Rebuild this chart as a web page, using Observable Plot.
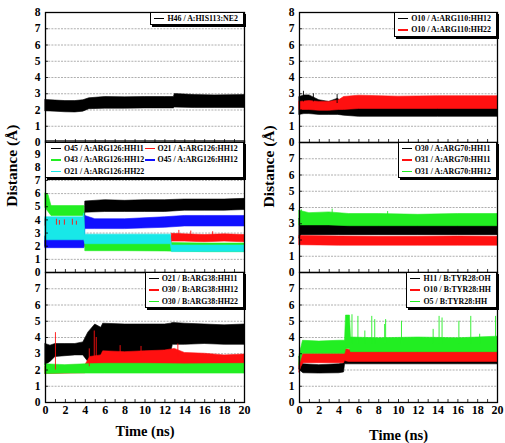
<!DOCTYPE html>
<html>
<head>
<meta charset="utf-8">
<script src="https://cdn.jsdelivr.net/npm/d3@7"></script>
<script src="https://cdn.jsdelivr.net/npm/@observablehq/plot@0.6"></script>
<style>
  body { margin: 0; background: #fff; }
  #fig { position: relative; width: 505px; height: 443px; overflow: hidden; background: #fff;
         font-family: "Liberation Serif", "Times New Roman", serif; font-weight: bold; }
  #fig svg { position: absolute; font-family: "Liberation Serif", "Times New Roman", serif; }
  .leg { position: absolute; background: #fff; border: 1px solid #000; box-shadow: 2px 2px 0 #000;
         font-size: 7.9px; line-height: 11.4px; padding: 0 5px 0 3px; white-space: nowrap; box-sizing: border-box; }
  .leg .row { display: flex; align-items: center; }
  .leg .sw { display: inline-block; width: 10px; height: 1.4px; margin-right: 3px; flex: none; }
  .leg.two { display: grid; grid-template-columns: 1fr 1fr; padding-left: 5px; }
</style>
</head>
<body>
<div id="fig"></div>
<script>
// ---- shared axis values ----
const timeTickLabels = [0, 2, 4, 6, 8, 10, 12, 14, 16, 18, 20];
const timeMinorTicks = d3.range(0, 21, 1);
const distTicks8 = [0, 1, 2, 3, 4, 5, 6, 7, 8];
const distTicks7 = [0, 1, 2, 3, 4, 5, 6, 7];
const distTicks9 = [0, 1, 2, 3, 4, 5, 6, 7, 8, 9];

const colBlack = "#000000", colRed = "#ff1010", colGreen = "#22ee22", colBlue = "#1010ff", colCyan = "#18e8e8";

// ---- H46 / A:HIS113:NE2 (min/max envelope over time, ns / Å) ----
const h46T  = [0, 1, 2, 3, 3.8, 4.4, 6, 8, 10, 12, 12.9, 13.0, 15, 17, 20];
const h46Lo = [1.92, 1.9, 1.86, 1.85, 1.9, 2.05, 2.08, 2.08, 2.1, 2.1, 2.1, 2.15, 2.12, 2.12, 2.12];
const h46Hi = [2.62, 2.58, 2.55, 2.55, 2.6, 2.72, 2.8, 2.78, 2.8, 2.8, 2.8, 2.98, 2.92, 2.9, 2.92];

// ---- A:ARG126 contacts ----
const o45hh11T  = [0, 3.9, 4.0, 6, 8, 10, 12, 14, 16, 18, 20];
const o45hh11Lo = [1.95, 2.0, 4.55, 4.6, 4.6, 4.6, 4.6, 4.7, 4.7, 4.7, 4.75];
const o45hh11Hi = [2.75, 2.7, 5.4, 5.5, 5.45, 5.5, 5.5, 5.55, 5.55, 5.55, 5.6];

const o21hh12T  = [0, 3.9, 4.0, 12.6, 12.7, 14, 16, 18, 20];
const o21hh12Lo = [3.55, 3.55, 1.95, 1.95, 2.35, 2.35, 2.3, 2.35, 2.3];
const o21hh12Hi = [4.05, 4.05, 2.3, 2.3, 2.95, 2.9, 2.85, 2.9, 2.85];
const o21hh12SpikeT    = [1.1, 1.4, 1.9, 2.7, 3.1, 13.4, 14.6, 16.8];
const o21hh12SpikeLo   = [3.6, 3.6, 3.6, 3.6, 3.6, 2.6, 2.6, 2.6];
const o21hh12SpikeHi   = [4.05, 3.95, 4.0, 4.05, 3.9, 3.2, 3.15, 3.1];

const o43hh12T  = [0, 0.3, 0.6, 3.9, 4.0, 8, 12, 16, 20];
const o43hh12Lo = [4.9, 4.6, 4.3, 4.3, 1.62, 1.62, 1.6, 1.55, 1.55];
const o43hh12Hi = [6.0, 5.9, 5.05, 5.05, 2.28, 2.25, 2.25, 2.2, 2.2];

const o45hh12T  = [0, 3.9, 4.0, 5, 8, 12, 14, 16, 20];
const o45hh12Lo = [1.85, 1.85, 3.3, 3.3, 3.3, 3.4, 3.5, 3.5, 3.5];
const o45hh12Hi = [2.65, 2.6, 4.3, 4.05, 4.05, 4.2, 4.3, 4.3, 4.3];

const o21hh22T  = [0, 3.8, 3.9, 4.0, 12.6, 12.7, 20];
const o21hh22Lo = [2.45, 2.45, 2.45, 2.15, 2.15, 1.55, 1.55];
const o21hh22Hi = [4.2, 4.2, 4.5, 2.88, 2.88, 2.05, 2.05];

// ---- B:ARG38 contacts ----
const o21bhh11T  = [0, 0.5, 1, 2, 3, 3.8, 4.3, 5.0, 5.6, 5.8, 8, 10, 12, 12.6, 12.8, 14, 16, 18, 20];
const o21bhh11Lo = [2.3, 2.5, 2.8, 2.85, 2.9, 2.9, 2.5, 2.5, 2.9, 3.0, 3.0, 3.0, 3.0, 3.0, 3.55, 3.55, 3.6, 3.55, 3.55];
const o21bhh11Hi = [3.6, 3.5, 3.6, 3.6, 3.6, 3.7, 4.3, 4.8, 4.6, 4.85, 4.8, 4.8, 4.8, 4.85, 4.9, 4.85, 4.8, 4.75, 4.8];

const o30bhh12T  = [0, 4.0, 4.5, 5.6, 5.8, 8, 10, 12, 13, 14, 16, 18, 20];
const o30bhh12Lo = [1.75, 1.8, 1.9, 2.0, 2.1, 2.1, 2.1, 2.1, 2.1, 2.1, 2.1, 2.1, 2.1];
const o30bhh12Hi = [2.2, 2.3, 2.8, 2.9, 3.15, 3.1, 3.15, 3.2, 3.3, 3.05, 3.0, 2.9, 2.95];
const o30bhh12SpikeT  = [1.0, 4.4, 4.9, 5.1, 7.5, 9.6, 13.3];
const o30bhh12SpikeLo = [2.0, 2.2, 2.4, 2.4, 2.8, 2.8, 2.8];
const o30bhh12SpikeHi = [4.3, 3.3, 4.4, 4.0, 3.5, 3.45, 3.6];

const o30bhh22T  = [0, 2, 4, 6, 10, 14, 20];
const o30bhh22Lo = [1.75, 1.78, 1.78, 1.78, 1.78, 1.78, 1.78];
const o30bhh22Hi = [2.35, 2.3, 2.35, 2.38, 2.38, 2.35, 2.38];

// ---- A:ARG110 contacts ----
const o10hh12T  = [0, 0.5, 1, 2, 3, 3.9, 4.5, 6, 10, 14, 20];
const o10hh12Lo = [1.7, 1.75, 1.75, 1.7, 1.7, 1.7, 1.65, 1.58, 1.58, 1.58, 1.58];
const o10hh12Hi = [2.8, 2.9, 2.9, 2.6, 2.5, 2.7, 2.3, 2.15, 2.1, 2.1, 2.1];
const o10hh12SpikeT  = [0.4, 1.4, 3.8];
const o10hh12SpikeLo = [2.5, 2.5, 2.4];
const o10hh12SpikeHi = [3.15, 3.0, 2.95];

const o10hh22T  = [0, 1, 2, 3, 4, 4.5, 6, 10, 14, 20];
const o10hh22Lo = [2.0, 2.0, 1.95, 1.95, 2.0, 2.0, 2.06, 2.06, 2.06, 2.06];
const o10hh22Hi = [2.5, 2.55, 2.5, 2.5, 2.6, 2.8, 2.88, 2.82, 2.85, 2.85];

// ---- A:ARG70 contacts ----
const o30hh11T  = [0, 0.2, 4, 8, 12, 16, 20];
const o30hh11Lo = [2.1, 2.3, 2.3, 2.3, 2.3, 2.3, 2.3];
const o30hh11Hi = [3.3, 2.95, 2.95, 2.92, 2.95, 2.95, 2.95];

const o31hh11T  = [0, 4, 8, 12, 16, 20];
const o31hh11Lo = [1.68, 1.65, 1.65, 1.65, 1.65, 1.65];
const o31hh11Hi = [2.25, 2.22, 2.2, 2.2, 2.22, 2.2];

const o31hh12T  = [0, 1, 3, 5, 8, 12, 16, 20];
const o31hh12Lo = [2.9, 2.9, 2.9, 2.85, 2.85, 2.85, 2.85, 2.85];
const o31hh12Hi = [3.8, 3.65, 3.7, 3.6, 3.6, 3.55, 3.6, 3.6];
const o31hh12SpikeT  = [0.2, 3.3, 8.9];
const o31hh12SpikeLo = [3.3, 3.4, 3.4];
const o31hh12SpikeHi = [3.85, 3.9, 3.75];

// ---- B:TYR28 contacts ----
const h11ohT  = [0, 0.2, 0.4, 2, 4, 4.5, 4.6, 8, 12, 16, 20];
const h11ohLo = [2.0, 1.9, 1.8, 1.78, 1.8, 1.85, 2.35, 2.35, 2.35, 2.35, 2.35];
const h11ohHi = [2.8, 2.4, 2.35, 2.3, 2.35, 2.4, 2.95, 2.95, 2.95, 2.95, 2.95];

const o10hhT  = [0, 0.2, 0.4, 2, 4.5, 4.6, 5, 8, 12, 16, 20];
const o10hhLo = [1.85, 2.2, 2.42, 2.42, 2.42, 2.55, 2.5, 2.5, 2.5, 2.5, 2.5];
const o10hhHi = [2.4, 2.9, 3.0, 3.0, 3.0, 3.3, 3.25, 3.2, 3.25, 3.25, 3.25];

const o5hhT  = [0, 0.2, 0.35, 2, 4, 4.6, 4.7, 5.1, 5.2, 8, 12, 16, 20];
const o5hhLo = [2.3, 2.7, 3.0, 3.0, 3.0, 3.0, 3.3, 3.3, 3.1, 3.1, 3.1, 3.1, 3.1];
const o5hhHi = [2.9, 3.4, 3.8, 3.75, 3.8, 3.8, 5.35, 5.35, 4.0, 3.95, 4.0, 3.95, 4.05];
const o5hhSpikeT    = [5.3, 5.9, 6.6, 7.3, 7.6, 8.6, 8.7, 10.3, 13.5, 14.1, 14.4, 16.1, 17.3, 18.2, 19.8];
const o5hhSpikePeak = [5.4, 5.3, 4.4, 5.3, 5.1, 4.8, 5.1, 5.0, 4.5, 5.3, 5.2, 5.0, 5.3, 4.2, 5.3];

// ---- helpers ----
const rows = (t, lo, hi) => t.map((x, i) => ({t: x, lo: lo[i], hi: hi[i]}));
const band = (t, lo, hi, color) => ({data: rows(t, lo, hi), color});
const spikes = (t, lo, hi, color) => ({data: rows(t, lo, hi), color});

const fig = document.getElementById("fig");
const font = {fontFamily: "Liberation Serif, Times New Roman, serif", fontWeight: "bold"};

function panel(o) {
  const innerH = o.height - o.mt - o.mb;
  const innerW = o.width - o.ml - o.mr;
  const grid = o.yTicks.filter(v => v > 0 && v < o.yDomain[1]);
  const marks = [
    Plot.ruleY(grid, {stroke: "#9a9a9a", strokeWidth: 0.8, strokeDasharray: "2,1.2"}),
    ...o.bands.map(b => Plot.areaY(b.data, {x: "t", y1: "lo", y2: "hi", fill: b.color, stroke: b.color, strokeWidth: 0.6})),
    ...(o.spikes || []).map(s => Plot.ruleX(s.data, {x: "t", y1: "lo", y2: "hi", stroke: s.color, strokeWidth: 0.9})),
    Plot.tickX(timeMinorTicks, {x: d => d, insetTop: innerH - 3, stroke: "#000", strokeWidth: 0.8}),
    Plot.tickY(o.yTicks, {y: d => d, insetRight: innerW - 3, stroke: "#000", strokeWidth: 0.8}),
    Plot.axisY({ticks: o.yTicks, label: null, tickSize: 0, tickPadding: 5, fontSize: 11.5, ...font}),
    Plot.frame({stroke: "#000", strokeWidth: 1.3})
  ];
  if (o.xAxis) {
    marks.push(Plot.axisX({ticks: timeTickLabels, label: null, tickSize: 0, tickPadding: 3, fontSize: 12, ...font}));
    marks.push(Plot.text(["Time (ns)"], {frameAnchor: "bottom", dy: o.xTitleDy, fontSize: 14.5, ...font, fill: "#000"}));
  }
  if (o.yTitle) {
    marks.push(Plot.text(["Distance (\u00c5)"], {frameAnchor: "left", dx: o.yTitleDx, dy: o.yTitleDy || 0, rotate: -90, fontSize: 15.5, ...font, fill: "#000"}));
  }
  const svg = Plot.plot({
    width: o.width, height: o.height,
    marginTop: o.mt, marginBottom: o.mb, marginLeft: o.ml, marginRight: o.mr,
    x: {domain: [0, 20], axis: null},
    y: {domain: o.yDomain, axis: null},
    style: {background: "transparent", overflow: "visible", color: "#000"},
    marks
  });
  svg.style.left = o.left + "px";
  svg.style.top = o.top + "px";
  fig.appendChild(svg);
}

// left column
panel({left: 0, top: 0, width: 250, height: 150, mt: 12, mb: 8, ml: 45, mr: 6,
  yDomain: [0, 8], yTicks: distTicks8,
  bands: [band(h46T, h46Lo, h46Hi, colBlack)]});
panel({left: 0, top: 130, width: 250, height: 150, mt: 10.5, mb: 8, ml: 45, mr: 6,
  yDomain: [0, 10], yTicks: distTicks9, yTitle: true, yTitleDx: -33, yTitleDy: 0,
  bands: [
    band(o45hh11T, o45hh11Lo, o45hh11Hi, colBlack),
    band(o21hh12T, o21hh12Lo, o21hh12Hi, colRed),
    band(o43hh12T, o43hh12Lo, o43hh12Hi, colGreen),
    band(o45hh12T, o45hh12Lo, o45hh12Hi, colBlue),
    band(o21hh22T, o21hh22Lo, o21hh22Hi, colCyan)
  ],
  spikes: [spikes(o21hh12SpikeT, o21hh12SpikeLo, o21hh12SpikeHi, colRed)]});
panel({left: 0, top: 260, width: 250, height: 183, mt: 12, mb: 41, ml: 45, mr: 6,
  yDomain: [0, 8], yTicks: distTicks7, xAxis: true, xTitleDy: 33,
  bands: [
    band(o21bhh11T, o21bhh11Lo, o21bhh11Hi, colBlack),
    band(o30bhh12T, o30bhh12Lo, o30bhh12Hi, colRed),
    band(o30bhh22T, o30bhh22Lo, o30bhh22Hi, colGreen)
  ],
  spikes: [spikes(o30bhh12SpikeT, o30bhh12SpikeLo, o30bhh12SpikeHi, colRed)]});

// right column
panel({left: 250, top: 0, width: 255, height: 150, mt: 12, mb: 8, ml: 49, mr: 8,
  yDomain: [0, 8], yTicks: distTicks8,
  bands: [
    band(o10hh12T, o10hh12Lo, o10hh12Hi, colBlack),
    band(o10hh22T, o10hh22Lo, o10hh22Hi, colRed)
  ],
  spikes: [spikes(o10hh12SpikeT, o10hh12SpikeLo, o10hh12SpikeHi, colBlack)]});
panel({left: 250, top: 130, width: 255, height: 150, mt: 12, mb: 8, ml: 49, mr: 8,
  yDomain: [0, 8], yTicks: distTicks7, yTitle: true, yTitleDx: -30, yTitleDy: 0,
  bands: [
    band(o30hh11T, o30hh11Lo, o30hh11Hi, colBlack),
    band(o31hh11T, o31hh11Lo, o31hh11Hi, colRed),
    band(o31hh12T, o31hh12Lo, o31hh12Hi, colGreen)
  ],
  spikes: [spikes(o31hh12SpikeT, o31hh12SpikeLo, o31hh12SpikeHi, colGreen)]});
panel({left: 250, top: 260, width: 255, height: 183, mt: 12, mb: 41, ml: 49, mr: 8,
  yDomain: [0, 8], yTicks: distTicks7, xAxis: true, xTitleDy: 37,
  bands: [
    band(h11ohT, h11ohLo, h11ohHi, colBlack),
    band(o10hhT, o10hhLo, o10hhHi, colRed),
    band(o5hhT, o5hhLo, o5hhHi, colGreen)
  ],
  spikes: [spikes(o5hhSpikeT, o5hhSpikeT.map(() => 3.6), o5hhSpikePeak, colGreen)]});

// legends
const legends = [
  {right: 261, top: 12, entries: [["H46 / A:HIS113:NE2", colBlack]]},
  {left: 45, width: 199, top: 142, two: true, entries: [
    ["O45 / A:ARG126:HH11", colBlack], ["O21 / A:ARG126:HH12", colRed],
    ["O43 / A:ARG126:HH12", colGreen], ["O45 / A:ARG126:HH12", colBlue],
    ["O21 / A:ARG126:HH22", colCyan]]},
  {right: 261, top: 272, entries: [
    ["O21 / B:ARG38:HH11", colBlack], ["O30 / B:ARG38:HH12", colRed], ["O30 / B:ARG38:HH22", colGreen]]},
  {right: 8, top: 12, entries: [["O10 / A:ARG110:HH12", colBlack], ["O10 / A:ARG110:HH22", colRed]]},
  {right: 8, top: 142, entries: [
    ["O30 / A:ARG70:HH11", colBlack], ["O31 / A:ARG70:HH11", colRed], ["O31 / A:ARG70:HH12", colGreen]]},
  {right: 8, top: 272, entries: [
    ["H11 / B:TYR28:OH", colBlack], ["O10 / B:TYR28:HH", colRed], ["O5 / B:TYR28:HH", colGreen]]}
];
for (const L of legends) {
  const box = document.createElement("div");
  box.className = "leg" + (L.two ? " two" : "");
  box.style.top = L.top + "px";
  if (L.right != null) box.style.right = L.right + "px";
  if (L.left != null) { box.style.left = L.left + "px"; box.style.width = L.width + "px"; }
  for (const [label, color] of L.entries) {
    const row = document.createElement("div");
    row.className = "row";
    const sw = document.createElement("span");
    sw.className = "sw";
    sw.style.background = color;
    row.appendChild(sw);
    row.appendChild(document.createTextNode(label));
    box.appendChild(row);
  }
  fig.appendChild(box);
}
</script>
</body>
</html>
